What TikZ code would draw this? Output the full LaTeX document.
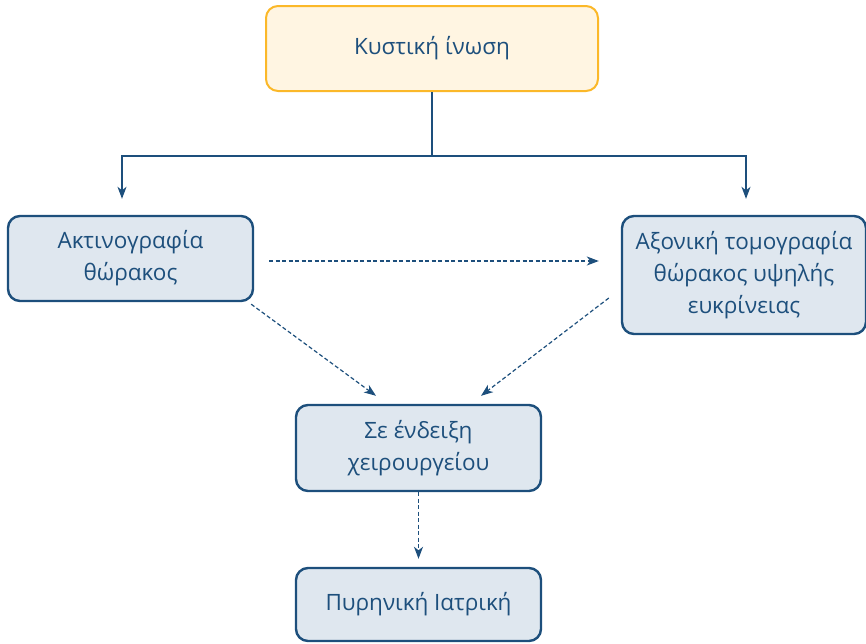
\documentclass[tikz,border=0pt]{standalone}
\usepackage{fontspec}
\setmainfont{Open Sans}
\usetikzlibrary{arrows.meta,positioning,calc}
\definecolor{darkblue}{HTML}{1D4F7C}
\definecolor{paleblue}{HTML}{DFE7EF}
\definecolor{gold}{HTML}{FBB829}
\definecolor{cream}{HTML}{FFF5E2}

\begin{document}
\begin{tikzpicture}
  [x=1pt,y=-1pt,
   boxN/.style={rectangle,rounded corners=12pt,draw=darkblue,line width=2.4pt,
     fill=paleblue,text=darkblue,align=center,font=\fontsize{22.5}{32}\selectfont,
     inner sep=0pt},
   startN/.style={boxN,draw=gold,line width=2pt,fill=cream},
   solidA/.style={darkblue,line width=1.2pt,-{Stealth[length=12pt,width=9pt,inset=3.5pt]}},
   dashA/.style={solidA,dash pattern=on 4pt off 2.5pt}]

  \useasboundingbox (0,0) rectangle (866,643);

  \path (432,48.5)  node[startN,minimum width=332pt,minimum height=85pt] (cf) {Κυστική ίνωση}
        (130.5,258.5) node[boxN,minimum width=245pt,minimum height=85pt] (xray) {Ακτινογραφία\\θώρακος}
        (744,275)   node[boxN,minimum width=244pt,minimum height=118pt] (hrct) {Αξονική τομογραφία\\θώρακος υψηλής\\ευκρίνειας}
        (418.5,448) node[boxN,minimum width=245pt,minimum height=86pt] (surg) {Σε ένδειξη\\χειρουργείου}
        (418.5,604.5) node[boxN,minimum width=245pt,minimum height=73pt] (nucl) {Πυρηνική Ιατρική};

  \coordinate (split) at (432,156);

  \draw [darkblue,line width=1.2pt] (cf) -- (split);
  \draw [solidA,shorten >=16pt] (split) -| ([xshift=-8.5pt]xray.north);
  \draw [solidA,shorten >=16pt] (split) -| ([xshift=2pt]hrct.north);

  \draw [dashA,shorten <=15pt,shorten >=22pt] ([yshift=-2.5pt]xray.east) -- ([yshift=-2.5pt]xray.east -| hrct.west);
  \draw [dashA] ([xshift=-3pt,yshift=-2pt]xray.south east) -- ([xshift=-42.5pt,yshift=8pt]surg.north);
  \draw [dashA] ([xshift=-12pt,yshift=-23pt]hrct.west) -- ([xshift=62.5pt,yshift=8pt]surg.north);
  \draw [dashA,shorten >=8pt] (surg) -- (nucl);

\end{tikzpicture}
\end{document}
